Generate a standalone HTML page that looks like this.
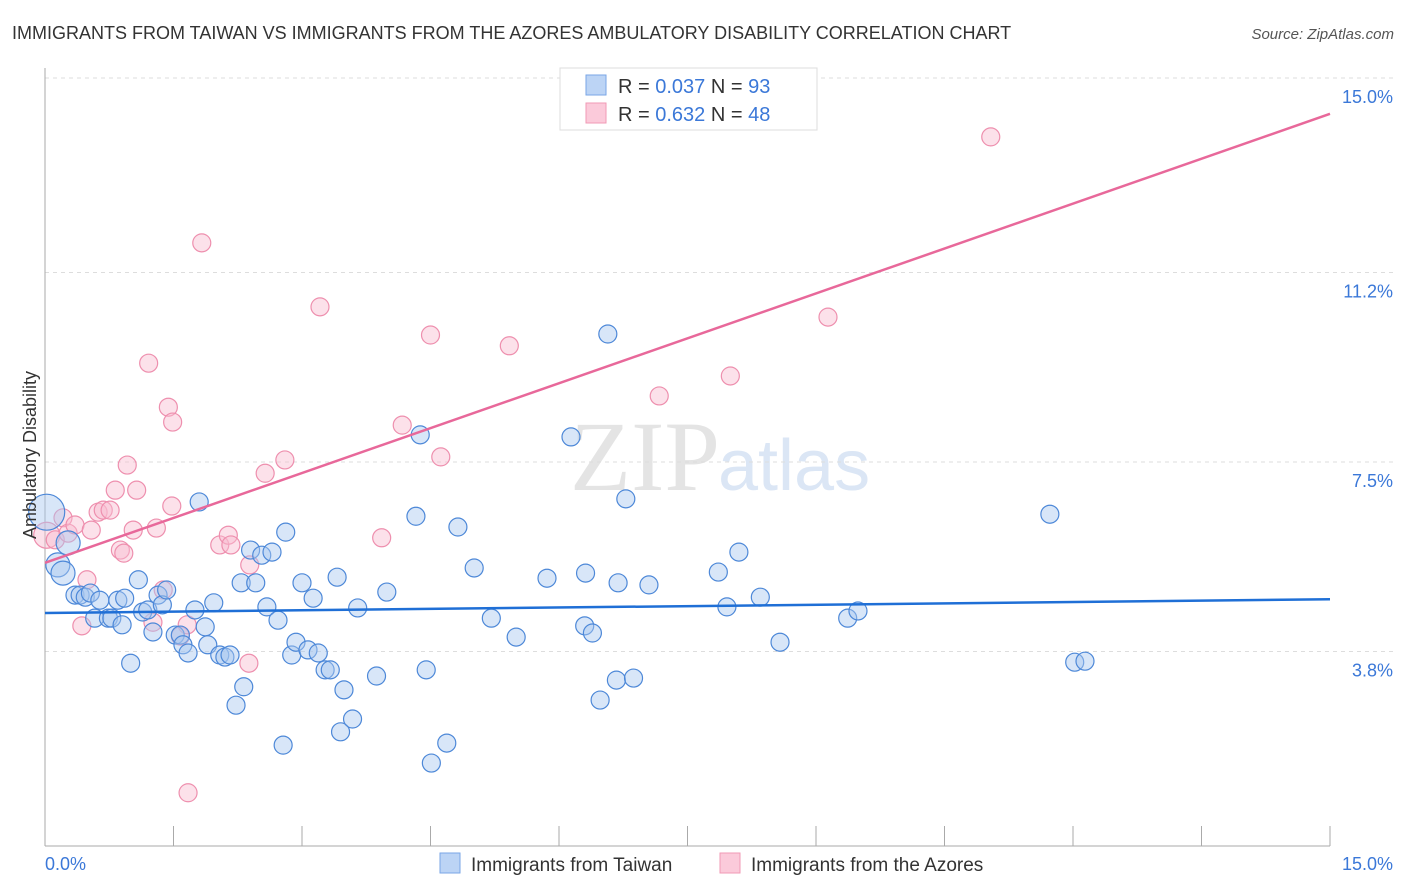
<!DOCTYPE html>
<html><head><meta charset="utf-8"><style>
body{margin:0;background:#fff;font-family:"Liberation Sans",sans-serif;}
svg{display:block}
</style></head><body>
<svg id="chart" width="1406" height="892">
<text x="12" y="39" font-size="18" fill="#333">IMMIGRANTS FROM TAIWAN VS IMMIGRANTS FROM THE AZORES AMBULATORY DISABILITY CORRELATION CHART</text>
<text x="1394" y="39" font-size="15" fill="#555" font-style="italic" text-anchor="end">Source: ZipAtlas.com</text>
<text x="720" y="490" font-size="100" fill="#e4e4e4" text-anchor="end" font-family="Liberation Serif">ZIP</text>
<text x="718" y="490" font-size="72" fill="#dbe6f5">atlas</text>
<g id="grid"></g><g id="axes"></g><g id="pts"></g><g id="lines"></g>
<text x="36" y="455" font-size="18" fill="#333" text-anchor="middle" transform="rotate(-90 36 455)">Ambulatory Disability</text>
<g>
<rect x="560" y="68" width="257" height="62" fill="#fff" stroke="#ddd"/>
<rect x="586" y="75" width="20" height="20" fill="#bcd4f5" stroke="#7aa6e6"/>
<rect x="586" y="103" width="20" height="20" fill="#fbcada" stroke="#f09ab5"/>
<text x="618" y="93" font-size="20" fill="#333">R = <tspan fill="#3b78d8">0.037</tspan>   N = <tspan fill="#3b78d8">93</tspan></text>
<text x="618" y="121" font-size="20" fill="#333">R = <tspan fill="#3b78d8">0.632</tspan>   N = <tspan fill="#3b78d8">48</tspan></text>
</g>
<g>
<rect x="440" y="853" width="20" height="20" fill="#bcd4f5" stroke="#7aa6e6"/>
<text x="471" y="871" font-size="19" fill="#333">Immigrants from Taiwan</text>
<rect x="720" y="853" width="20" height="20" fill="#fbcada" stroke="#f09ab5"/>
<text x="751" y="871" font-size="19" fill="#333">Immigrants from the Azores</text>
</g>
</svg>
<script>
const yTicks=[3.8,7.5,11.2,15.0];
const yTickLabels=["3.8%","7.5%","11.2%","15.0%"];
const xTickCount=10;
const blueX=[.02,.27,.15,.21,.35,.41,.47,.53,.64,.58,.74,.78,.85,.90,.93,1.00,1.09,1.14,1.20,1.26,1.32,1.37,1.42,1.52,1.58,1.61,1.67,1.75,1.80,1.87,1.90,1.97,2.04,2.10,2.16,2.23,2.29,2.32,2.40,2.46,2.53,2.59,2.65,2.72,2.78,2.81,2.88,2.93,3.00,3.07,3.13,3.19,3.27,3.33,3.41,3.49,3.45,3.59,3.65,3.87,3.99,4.33,4.38,4.45,4.51,4.69,4.82,5.01,5.21,5.50,5.86,6.14,6.30,6.31,6.39,6.48,6.57,6.67,6.69,6.78,6.87,7.05,7.86,7.96,8.10,8.35,8.58,9.37,9.49,11.73,12.02,12.14];
const blueY=[6.52,5.92,5.49,5.33,4.90,4.90,4.86,4.94,4.80,4.45,4.45,4.45,4.80,4.32,4.84,3.57,5.20,4.57,4.61,4.18,4.90,4.71,5.00,4.12,4.12,3.93,3.77,4.61,6.72,4.28,3.93,4.75,3.73,3.69,3.73,2.75,5.14,3.11,5.78,5.14,5.68,4.67,5.74,4.41,1.97,6.13,3.73,3.98,5.14,3.83,4.84,3.77,3.44,3.44,5.25,3.05,2.23,2.48,4.65,3.32,4.96,6.44,8.03,3.44,1.62,2.01,6.23,5.43,4.45,4.08,5.23,7.99,4.30,5.33,4.16,2.85,10.00,3.24,5.14,6.78,3.28,5.10,5.35,4.67,5.74,4.86,3.98,4.45,4.59,6.48,3.59,3.61];
const pinkX=[.02,.12,.21,.27,.35,.43,.49,.54,.62,.68,.76,.82,.88,.92,.96,1.03,1.07,1.21,1.26,1.30,1.38,1.44,1.48,1.49,1.58,1.66,1.67,1.83,2.04,2.14,2.17,2.38,2.39,2.57,2.80,3.21,3.93,4.17,4.50,4.62,5.42,7.17,8.00,9.14,11.04];
const pinkY=[6.07,5.98,6.41,6.11,6.27,4.30,5.20,6.17,6.52,6.56,6.56,6.95,5.78,5.72,7.44,6.17,6.95,9.43,4.37,6.21,5.00,8.57,6.64,8.28,4.10,4.32,1.04,11.78,5.88,6.07,5.88,3.57,5.49,7.28,7.54,10.53,6.02,8.22,9.98,7.60,9.77,8.79,9.18,10.33,13.85];
const blueTrend=[4.55,4.82];
const pinkTrend=[5.53,14.30];
const X=v=>45+v/15*1285, Y=v=>846-v*51.2;
const NS="http://www.w3.org/2000/svg";
function mk(tag,attrs,parent){const e=document.createElementNS(NS,tag);for(const k in attrs)e.setAttribute(k,attrs[k]);document.getElementById(parent).appendChild(e);return e;}
yTicks.forEach((t,i)=>{
 const gy=Y(t===15?15.0:t)+ (t===15?-0.2:0);
 const l=mk('line',{x1:45,x2:1394,y1:Y(t),y2:Y(t),stroke:'#ddd','stroke-dasharray':'4,4'},'grid');
 
 
 const tx=mk('text',{x:1393,y:Y(t)+25,'font-size':18,fill:'#3b78d8','text-anchor':'end'},'axes');
 tx.textContent=yTickLabels[i];
 
 
});
let a=mk('line',{x1:45,x2:45,y1:68,y2:846,stroke:'#aaa'},'axes');


a=mk('line',{x1:45,x2:1330,y1:846,y2:846,stroke:'#aaa'},'axes');


for(let i=0;i<=xTickCount;i++){const t=mk('line',{x1:X(i*1.5),x2:X(i*1.5),y1:826,y2:846,stroke:'#aaa'},'axes');
 
 }
let t0=mk('text',{x:45,y:870,'font-size':18,fill:'#3b78d8'},'axes');t0.textContent='0.0%';


t0=mk('text',{x:1393,y:870,'font-size':18,fill:'#3b78d8','text-anchor':'end'},'axes');t0.textContent='15.0%';


function pts(xs,ys,fill,stroke,name){xs.forEach((x,i)=>{
 let r=9; if(x<0.3&&name==='taiwan-point')r=(i===0?18:12); if(x<0.05&&name==='azores-point')r=13;
 const c=mk('circle',{cx:X(x),cy:Y(ys[i]),r:r,fill:fill,'fill-opacity':0.45,stroke:stroke,'stroke-width':1.2},'pts');
 
 });}
pts(pinkX,pinkY,'#f9bcd0','#ee8fae','azores-point');
pts(blueX,blueY,'#a9c8f0','#4d88d8','taiwan-point');
let ln=mk('line',{x1:X(0),y1:Y(blueTrend[0]),x2:X(15),y2:Y(blueTrend[1]),stroke:'#1f6fd6','stroke-width':2.5},'lines');


ln=mk('line',{x1:X(0),y1:Y(pinkTrend[0]),x2:X(15),y2:Y(pinkTrend[1]),stroke:'#e8689a','stroke-width':2.5},'lines');


</script>
</body></html>
